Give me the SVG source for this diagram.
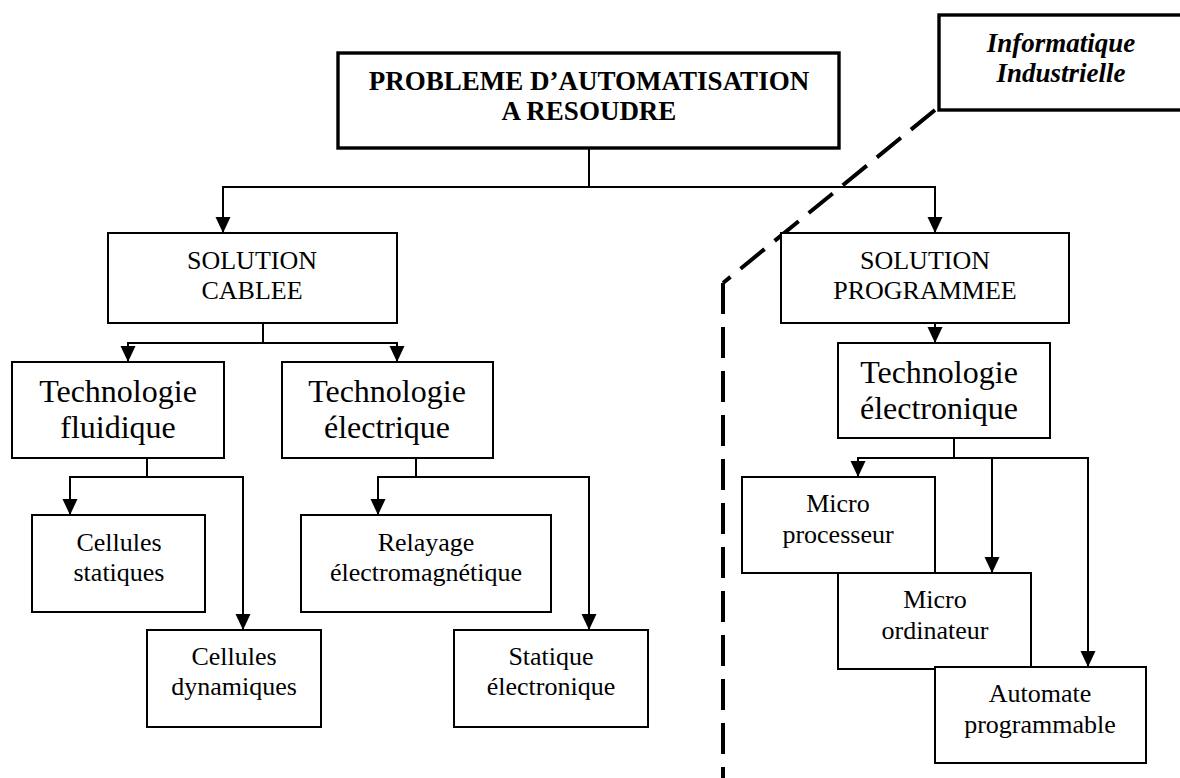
<svg xmlns="http://www.w3.org/2000/svg" width="1180" height="778" viewBox="0 0 1180 778">
  <style>
    text { font-family: "Liberation Serif", "Times New Roman", serif; fill: #000; text-anchor: middle; }
    .t26 { font-size: 26px; }
    .t27 { font-size: 27px; }
    .t32 { font-size: 32px; }
    .bold { font-weight: bold; }
    .bi { font-weight: bold; font-style: italic; }
    .box { fill: #fff; stroke: #000; stroke-width: 2; }
    .heavy { fill: #fff; stroke: #000; stroke-width: 3.4; }
    .link { fill: none; stroke: #000; stroke-width: 2; }
    .arrow { fill: none; stroke: #000; stroke-width: 2; marker-end: url(#head); }
    .dash { fill: none; stroke: #000; stroke-width: 4; stroke-dasharray: 31 13; }
  </style>
  <defs>
    <marker id="head" markerUnits="userSpaceOnUse" markerWidth="17" markerHeight="16" refX="16" refY="7.5" orient="auto">
      <path d="M0,0 L16,7.5 L0,15 z" fill="#000"/>
    </marker>
  </defs>

  <rect width="1180" height="778" fill="#fff"/>

  <!-- boundary of the industrial computing area -->
  <g id="boundary">
    <path class="dash" d="M935,110 L723,283"/>
    <path class="dash" d="M723,283 V778"/>
  </g>

  <g id="connectors">
    <path class="link" d="M589,148 V187"/>
    <path class="arrow" d="M589,187 H223 V233"/>
    <path class="arrow" d="M589,187 H935 V233"/>

    <path class="link" d="M263,323 V343"/>
    <path class="arrow" d="M263,343 H128 V362"/>
    <path class="arrow" d="M263,343 H397 V362"/>

    <path class="arrow" d="M935,323 V343"/>

    <path class="link" d="M147,458 V477"/>
    <path class="arrow" d="M147,477 H70 V515"/>
    <path class="arrow" d="M147,477 H243 V630"/>

    <path class="link" d="M416,458 V477"/>
    <path class="arrow" d="M416,477 H378 V515"/>
    <path class="arrow" d="M416,477 H589 V630"/>

    <path class="link" d="M954,438 V458"/>
    <path class="arrow" d="M954,458 H858 V477"/>
    <path class="arrow" d="M954,458 H992 V573"/>
    <path class="arrow" d="M992,458 H1088 V667"/>
  </g>

  <g id="probleme">
    <rect class="heavy" x="338" y="53" width="501" height="95"/>
    <text class="t27 bold" x="589" y="90">PROBLEME D’AUTOMATISATION</text>
    <text class="t27 bold" x="589" y="120">A RESOUDRE</text>
  </g>

  <g id="informatique">
    <rect class="heavy" x="939" y="15" width="260" height="95"/>
    <text class="t27 bi" x="1061" y="52">Informatique</text>
    <text class="t27 bi" x="1061" y="82">Industrielle</text>
  </g>

  <g id="solution-cablee">
    <rect class="box" x="108" y="233" width="289" height="90"/>
    <text class="t26" x="252" y="269">SOLUTION</text>
    <text class="t26" x="252" y="299">CABLEE</text>
  </g>

  <g id="solution-programmee">
    <rect class="box" x="781" y="233" width="288" height="90"/>
    <text class="t26" x="925" y="269">SOLUTION</text>
    <text class="t26" x="925" y="299">PROGRAMMEE</text>
  </g>

  <g id="tech-fluidique">
    <rect class="box" x="12" y="362" width="212" height="96"/>
    <text class="t32" x="118" y="402">Technologie</text>
    <text class="t32" x="118" y="438">fluidique</text>
  </g>

  <g id="tech-electrique">
    <rect class="box" x="282" y="362" width="211" height="96"/>
    <text class="t32" x="387" y="402">Technologie</text>
    <text class="t32" x="387" y="438">électrique</text>
  </g>

  <g id="tech-electronique">
    <rect class="box" x="838" y="343" width="212" height="95"/>
    <text class="t32" x="939" y="383">Technologie</text>
    <text class="t32" x="939" y="419">électronique</text>
  </g>

  <g id="cellules-statiques">
    <rect class="box" x="32" y="515" width="173" height="97"/>
    <text class="t26" x="119" y="551">Cellules</text>
    <text class="t26" x="119" y="581">statiques</text>
  </g>

  <g id="cellules-dynamiques">
    <rect class="box" x="147" y="630" width="174" height="97"/>
    <text class="t26" x="234" y="665">Cellules</text>
    <text class="t26" x="234" y="695">dynamiques</text>
  </g>

  <g id="relayage">
    <rect class="box" x="301" y="515" width="250" height="97"/>
    <text class="t26" x="426" y="551">Relayage</text>
    <text class="t26" x="426" y="581">électromagnétique</text>
  </g>

  <g id="statique-electronique">
    <rect class="box" x="454" y="630" width="194" height="97"/>
    <text class="t26" x="551" y="665">Statique</text>
    <text class="t26" x="551" y="695">électronique</text>
  </g>

  <g id="micro-processeur">
    <rect class="box" x="742" y="477" width="193" height="96"/>
    <text class="t26" x="838" y="512">Micro</text>
    <text class="t26" x="838" y="543">processeur</text>
  </g>

  <g id="micro-ordinateur">
    <rect class="box" x="838" y="573" width="193" height="96"/>
    <text class="t26" x="935" y="608">Micro</text>
    <text class="t26" x="935" y="639">ordinateur</text>
  </g>

  <g id="automate">
    <rect class="box" x="935" y="667" width="211" height="96"/>
    <text class="t26" x="1040" y="702">Automate</text>
    <text class="t26" x="1040" y="733">programmable</text>
  </g>
</svg>
